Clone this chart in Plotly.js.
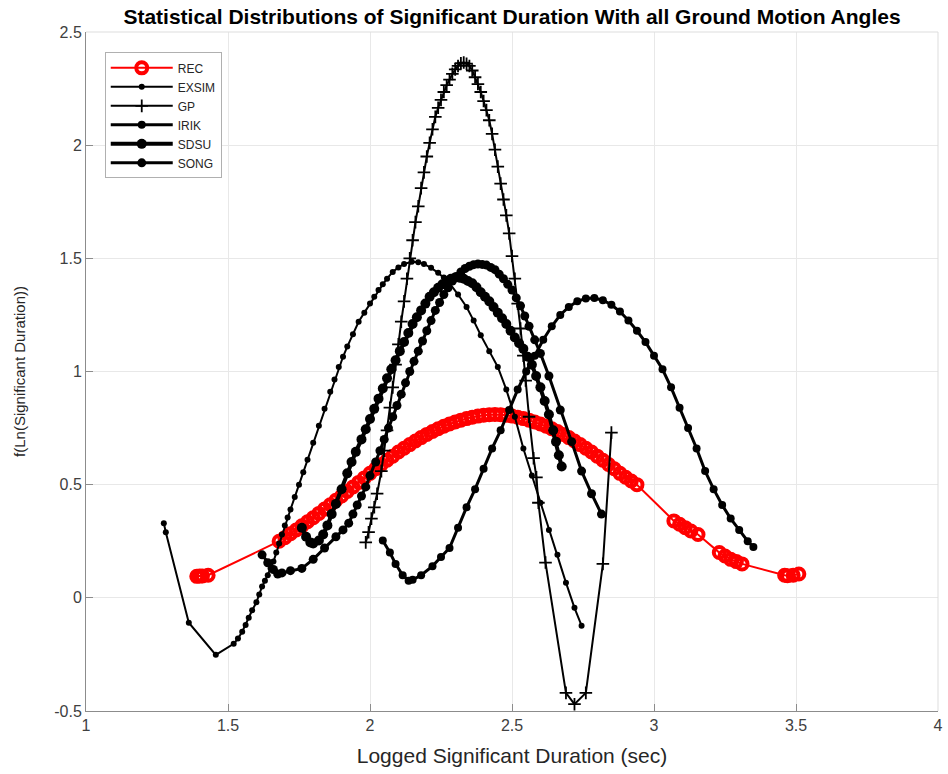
<!DOCTYPE html>
<html>
<head>
<meta charset="utf-8">
<script src="https://cdn.plot.ly/plotly-3.0.1.min.js"></script>
<style>html,body{margin:0;padding:0;background:#fff;}#chart{width:948px;height:774px;}</style>
</head>
<body>
<div id="chart"></div>
<script>
// ---- data ----
const seriesNames = ["REC", "EXSIM", "GP", "IRIK", "SDSU", "SONG"];

const xREC = [1.39,1.40,1.41,1.43,1.68,1.70,1.72,1.74,1.76,1.78,1.80,1.82,1.84,1.86,1.88,1.90,1.92,1.94,1.96,1.98,2.00,2.02,2.04,2.06,2.08,2.10,2.12,2.14,2.16,2.18,2.20,2.22,2.24,2.26,2.28,2.30,2.32,2.34,2.36,2.38,2.40,2.42,2.44,2.46,2.48,2.50,2.52,2.54,2.56,2.58,2.60,2.62,2.64,2.66,2.68,2.70,2.72,2.74,2.76,2.78,2.80,2.82,2.84,2.86,2.88,2.90,2.92,2.94,3.07,3.09,3.11,3.13,3.155,3.23,3.25,3.27,3.29,3.31,3.46,3.47,3.49,3.51];
const yREC = [0.095,0.096,0.097,0.100,0.250,0.266,0.283,0.300,0.318,0.336,0.354,0.373,0.392,0.411,0.431,0.450,0.470,0.490,0.510,0.530,0.550,0.570,0.589,0.608,0.626,0.644,0.661,0.677,0.693,0.708,0.722,0.735,0.747,0.758,0.768,0.777,0.785,0.792,0.798,0.803,0.807,0.809,0.810,0.809,0.807,0.803,0.798,0.792,0.785,0.777,0.768,0.758,0.747,0.735,0.722,0.708,0.693,0.677,0.661,0.644,0.626,0.608,0.589,0.570,0.550,0.533,0.516,0.500,0.340,0.325,0.310,0.295,0.280,0.200,0.185,0.170,0.160,0.150,0.100,0.098,0.100,0.105];

const xEXSIM = [1.274,1.281,1.362,1.457,1.52,1.535,1.55,1.562,1.573,1.585,1.60,1.61,1.62,1.63,1.64,1.65,1.66,1.67,1.68,1.69,1.70,1.71,1.72,1.735,1.75,1.765,1.78,1.80,1.82,1.84,1.86,1.875,1.89,1.905,1.92,1.94,1.96,1.98,2.00,2.015,2.03,2.045,2.06,2.08,2.10,2.12,2.147,2.17,2.19,2.215,2.24,2.26,2.28,2.31,2.34,2.365,2.39,2.42,2.45,2.48,2.51,2.54,2.57,2.60,2.63,2.66,2.69,2.72,2.745];
const yEXSIM = [0.330,0.290,-0.110,-0.252,-0.203,-0.180,-0.150,-0.120,-0.088,-0.055,-0.020,0.015,0.050,0.075,0.100,0.130,0.160,0.200,0.240,0.280,0.320,0.355,0.390,0.445,0.500,0.555,0.610,0.685,0.760,0.835,0.910,0.965,1.020,1.065,1.110,1.165,1.220,1.260,1.300,1.330,1.360,1.385,1.410,1.440,1.460,1.475,1.485,1.483,1.475,1.458,1.436,1.415,1.390,1.340,1.285,1.225,1.160,1.090,1.020,0.920,0.800,0.660,0.540,0.420,0.300,0.190,0.067,-0.044,-0.123];

const xGP = [1.985,1.995,2.005,2.015,2.025,2.04,2.05,2.06,2.07,2.08,2.09,2.10,2.11,2.12,2.13,2.14,2.15,2.16,2.17,2.18,2.19,2.20,2.21,2.22,2.23,2.24,2.25,2.26,2.27,2.28,2.29,2.30,2.31,2.32,2.33,2.34,2.35,2.36,2.37,2.38,2.39,2.40,2.41,2.42,2.43,2.44,2.45,2.46,2.47,2.48,2.49,2.50,2.51,2.52,2.53,2.54,2.548,2.56,2.576,2.586,2.593,2.618,2.69,2.72,2.76,2.82,2.85];
const yGP = [0.245,0.290,0.350,0.400,0.460,0.560,0.650,0.740,0.840,0.930,1.030,1.120,1.220,1.310,1.410,1.500,1.580,1.660,1.730,1.810,1.880,1.950,2.010,2.070,2.125,2.165,2.200,2.235,2.265,2.290,2.315,2.335,2.350,2.362,2.365,2.360,2.350,2.330,2.300,2.270,2.235,2.195,2.155,2.110,2.050,1.980,1.905,1.830,1.760,1.690,1.610,1.510,1.410,1.300,1.190,1.070,0.960,0.800,0.617,0.532,0.420,0.156,-0.420,-0.470,-0.420,0.150,0.730];

const xIRIK = [2.045,2.07,2.09,2.115,2.136,2.15,2.18,2.22,2.25,2.28,2.31,2.34,2.37,2.40,2.43,2.46,2.49,2.52,2.55,2.58,2.61,2.64,2.67,2.70,2.73,2.76,2.79,2.82,2.85,2.88,2.91,2.94,2.97,3.00,3.03,3.06,3.09,3.12,3.15,3.18,3.21,3.24,3.27,3.30,3.33,3.35];
const yIRIK = [0.253,0.200,0.150,0.100,0.076,0.080,0.100,0.140,0.180,0.220,0.310,0.400,0.480,0.570,0.660,0.740,0.830,0.920,1.000,1.070,1.140,1.200,1.250,1.285,1.310,1.323,1.325,1.315,1.295,1.265,1.225,1.180,1.130,1.070,1.010,0.930,0.840,0.750,0.660,0.560,0.480,0.410,0.350,0.300,0.250,0.225];

const xSDSU = [1.76,1.775,1.79,1.80,1.82,1.835,1.85,1.865,1.88,1.90,1.92,1.935,1.95,1.97,1.985,2.00,2.015,2.03,2.045,2.06,2.075,2.09,2.105,2.12,2.135,2.15,2.165,2.18,2.195,2.21,2.225,2.24,2.255,2.27,2.285,2.30,2.315,2.33,2.345,2.36,2.375,2.39,2.405,2.42,2.435,2.45,2.465,2.48,2.495,2.51,2.525,2.54,2.555,2.57,2.585,2.60,2.615,2.63,2.645,2.655,2.665,2.675];
const ySDSU = [0.310,0.270,0.245,0.240,0.253,0.280,0.320,0.370,0.415,0.480,0.550,0.600,0.645,0.700,0.745,0.790,0.835,0.880,0.925,0.970,1.010,1.050,1.090,1.130,1.170,1.210,1.240,1.270,1.300,1.330,1.350,1.370,1.385,1.400,1.410,1.415,1.414,1.410,1.400,1.390,1.372,1.350,1.330,1.310,1.285,1.260,1.235,1.210,1.180,1.150,1.125,1.100,1.065,1.030,0.980,0.930,0.870,0.810,0.740,0.690,0.630,0.580];

const xSONG = [1.62,1.64,1.66,1.675,1.69,1.72,1.76,1.80,1.84,1.88,1.905,1.925,1.94,1.955,1.97,1.985,2.00,2.02,2.035,2.05,2.065,2.08,2.095,2.11,2.125,2.14,2.155,2.17,2.185,2.20,2.215,2.23,2.245,2.26,2.275,2.29,2.305,2.32,2.335,2.35,2.365,2.38,2.395,2.41,2.425,2.44,2.455,2.47,2.485,2.50,2.515,2.53,2.545,2.56,2.58,2.60,2.63,2.67,2.71,2.745,2.78,2.815];
const ySONG = [0.190,0.155,0.125,0.105,0.110,0.120,0.130,0.170,0.220,0.270,0.300,0.330,0.370,0.410,0.450,0.490,0.540,0.600,0.650,0.700,0.750,0.800,0.850,0.900,0.950,1.000,1.045,1.090,1.135,1.180,1.225,1.270,1.305,1.340,1.370,1.400,1.420,1.440,1.455,1.465,1.472,1.475,1.473,1.470,1.460,1.450,1.430,1.410,1.385,1.360,1.325,1.290,1.245,1.200,1.140,1.080,0.980,0.830,0.690,0.560,0.460,0.370];

const xTicks = [1, 1.5, 2, 2.5, 3, 3.5, 4];
const yTicks = [-0.5, 0, 0.5, 1, 1.5, 2, 2.5];
const xTickText = ["1", "1.5", "2", "2.5", "3", "3.5", "4"];
const yTickText = ["-0.5", "0", "0.5", "1", "1.5", "2", "2.5"];

const FONT = "Liberation Sans, Arial, sans-serif";

function blackTrace(name, x, y, sym, size, mlw, lw) {
  return {
    type: "scatter", mode: "lines+markers", name: name, x: x, y: y,
    line: {color: "#000000", width: lw},
    marker: {symbol: sym, size: size, color: "#000000", line: {color: "#000000", width: mlw}}
  };
}

const traces = [
  {
    type: "scatter", mode: "lines+markers", name: seriesNames[0], x: xREC, y: yREC,
    line: {color: "#ff0000", width: 2},
    marker: {symbol: "circle-open", size: 11, color: "#ff0000", line: {color: "#ff0000", width: 4}}
  },
  blackTrace(seriesNames[1], xEXSIM, yEXSIM, "circle", 6, 0, 2),
  blackTrace(seriesNames[2], xGP, yGP, "cross-thin-open", 9, 1.8, 2),
  blackTrace(seriesNames[3], xIRIK, yIRIK, "circle", 8, 0, 3),
  blackTrace(seriesNames[4], xSDSU, ySDSU, "circle", 10, 0, 4),
  blackTrace(seriesNames[5], xSONG, ySONG, "circle", 9, 0, 3)
];

const layout = {
  width: 948, height: 774,
  margin: {l: 86, r: 10, t: 32, b: 63},
  paper_bgcolor: "#ffffff", plot_bgcolor: "#ffffff",
  font: {family: FONT, color: "#262626", size: 14},
  title: {
    text: "<b>Statistical Distributions of Significant Duration With all Ground Motion Angles</b>",
    font: {family: FONT, size: 21, color: "#000000"},
    x: 0.5, xref: "paper", xanchor: "center", y: 0.978, yanchor: "middle"
  },
  xaxis: {
    range: [1, 4], tickvals: xTicks, ticktext: xTickText,
    showgrid: true, gridcolor: "#e8e8e8", gridwidth: 1,
    zeroline: false, showline: true, linecolor: "#8c8c8c", linewidth: 1,
    ticks: "inside", ticklen: 7, tickcolor: "#8c8c8c",
    tickfont: {family: FONT, size: 16, color: "#404040"},
    title: {text: "Logged Significant Duration (sec)", font: {family: FONT, size: 21, color: "#262626"}, standoff: 15}
  },
  yaxis: {
    range: [-0.5, 2.5], tickvals: yTicks, ticktext: yTickText,
    showgrid: true, gridcolor: "#e8e8e8", gridwidth: 1,
    zeroline: false, showline: true, linecolor: "#8c8c8c", linewidth: 1,
    ticks: "inside", ticklen: 7, tickcolor: "#8c8c8c",
    tickfont: {family: FONT, size: 16, color: "#404040"},
    title: {text: "f(Ln(Significant Duration))", font: {family: FONT, size: 15, color: "#262626"}, standoff: 24}
  },
  shapes: [
    {type: "line", xref: "paper", yref: "paper", x0: 0, x1: 1, y0: 1, y1: 1, line: {color: "#dddddd", width: 1}},
    {type: "line", xref: "paper", yref: "paper", x0: 1, x1: 1, y0: 0, y1: 1, line: {color: "#dddddd", width: 1}}
  ],
  showlegend: true,
  legend: {
    x: 0.022, y: 0.97, xanchor: "left", yanchor: "top",
    bgcolor: "#ffffff", bordercolor: "#b0b0b0", borderwidth: 1,
    font: {family: FONT, size: 12, color: "#262626"},
    tracegroupgap: 0, itemwidth: 62
  }
};

Plotly.newPlot("chart", traces, layout, {displayModeBar: false, staticPlot: true});
</script>
</body>
</html>
